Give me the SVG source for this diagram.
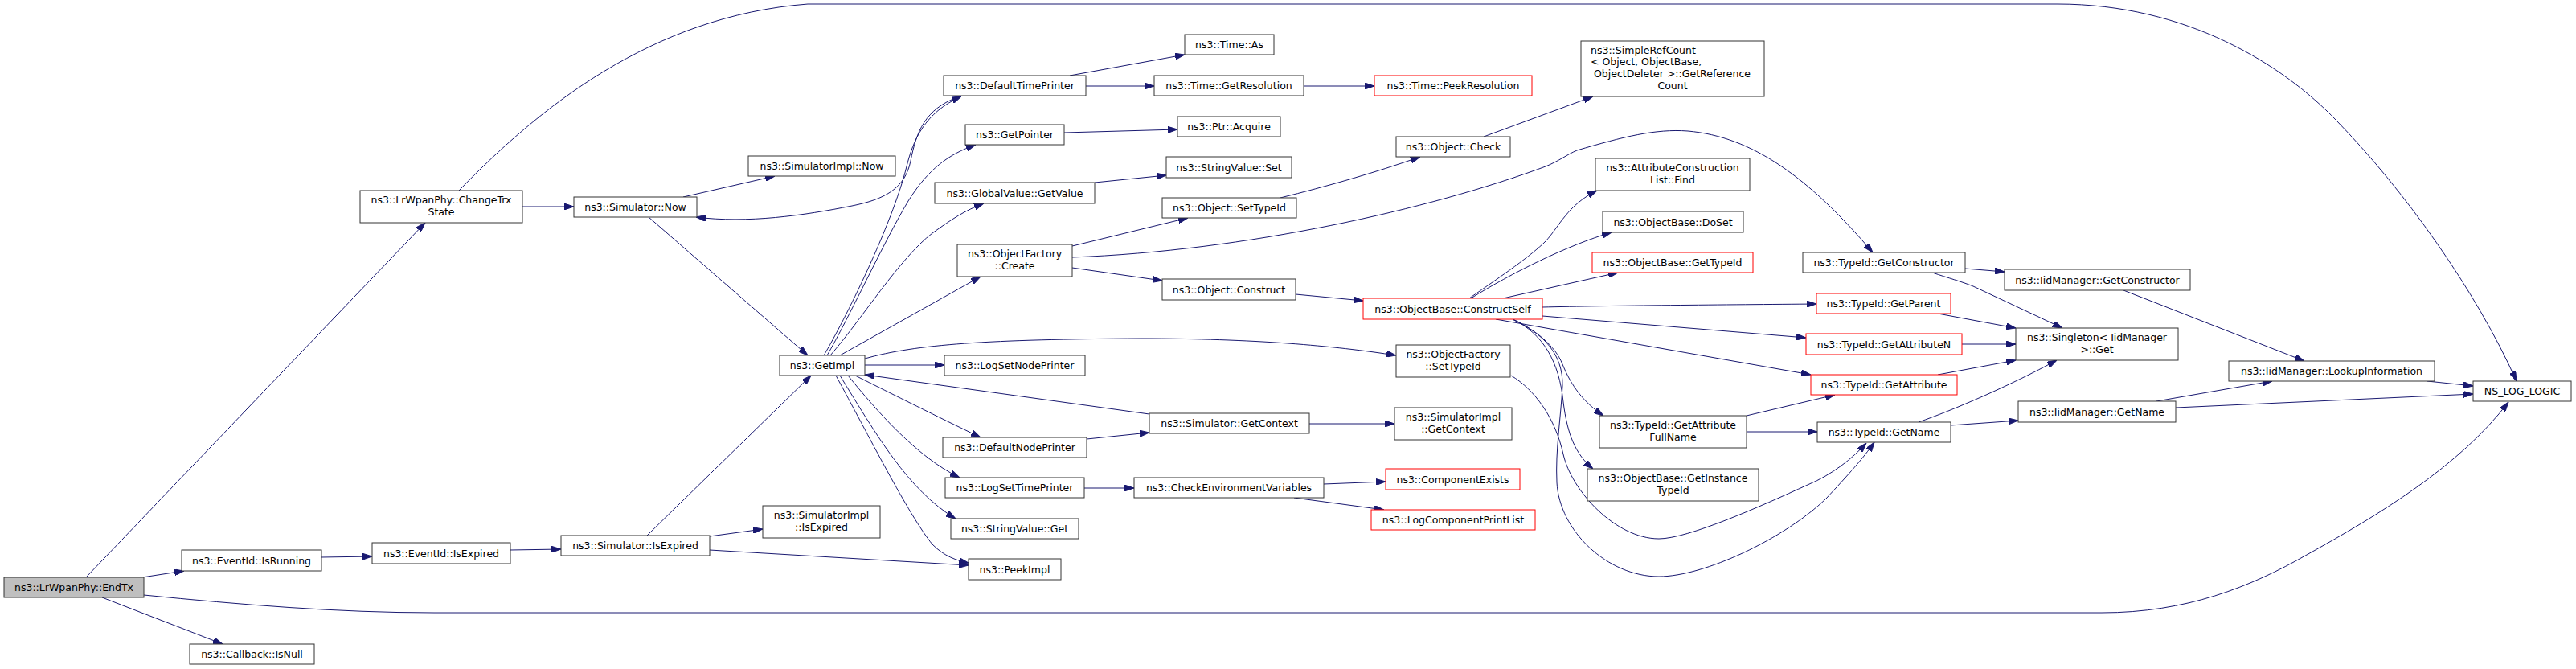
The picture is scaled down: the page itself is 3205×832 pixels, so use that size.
<svg xmlns="http://www.w3.org/2000/svg" width="3205" height="832" viewBox="0 0 3205 832">
<style>
.n rect{fill:#fff;stroke:#333;stroke-width:1}
.n.root rect{fill:#bfbfbf}
.n.red rect{stroke:#ff0000}
.n text{font-family:"DejaVu Sans",sans-serif;font-size:12.5px;text-anchor:middle;fill:#000}
.n text.l{text-anchor:start}
#edges path{fill:none;stroke:#191970;stroke-width:1;marker-end:url(#arr)}
</style>
<defs>
<marker id="arr" markerWidth="12" markerHeight="8" refX="12" refY="4" orient="auto" markerUnits="userSpaceOnUse">
<path d="M0,0 L12,4 L0,8 z" fill="#191970" stroke="#191970" stroke-width="1"/>
</marker>
</defs>
<rect x="0" y="0" width="3205" height="832" fill="#fff"/>
<g id="edges">
<path d="M107,718 L529,277"/>
<path d="M177,718 L229,710"/>
<path d="M179,740 C300,752 420,762 540,762 L2615,762 C2720,762 2800,730 2870,690 C2960,640 3060,580 3121,500"/>
<path d="M127,743 L277,801"/>
<path d="M650,257 L714,257"/>
<path d="M571,237 C670,135 810,20 1005,5 L2560,5 C2720,5 2840,80 2907,150 C2990,235 3080,360 3131,474"/>
<path d="M850,245 L964,219"/>
<path d="M807,270 L1005,442"/>
<path d="M1194,120 C1150,135 1140,165 1133,200 C1126,235 1100,248 1060,256 C1000,268 930,278 866,270"/>
<path d="M1025,442 C1050,400 1110,280 1128,207 C1136,175 1150,140 1196,120"/>
<path d="M1029,442 C1055,398 1100,300 1130,250 C1155,210 1180,192 1214,180"/>
<path d="M1033,442 C1070,400 1120,320 1160,290 C1185,272 1200,262 1224,253"/>
<path d="M1045,442 L1220,344"/>
<path d="M1076,454 L1175,454"/>
<path d="M1076,446 C1140,428 1230,422 1420,421 C1560,421 1660,430 1737,442"/>
<path d="M1430,515 L1076,466"/>
<path d="M1064,467 C1110,490 1170,520 1220,544"/>
<path d="M1055,467 C1090,510 1140,568 1194,594"/>
<path d="M1045,467 C1090,540 1130,610 1189,645"/>
<path d="M1040,467 C1080,540 1130,640 1160,677 C1175,692 1190,697 1205,700"/>
<path d="M883,684 L1205,703"/>
<path d="M883,667 L949,658"/>
<path d="M805,666 L1009,467"/>
<path d="M635,684 L698,683"/>
<path d="M400,693 L463,692"/>
<path d="M1331,94 L1474,68"/>
<path d="M1351,107 L1436,107"/>
<path d="M1622,107 L1710,107"/>
<path d="M1324,165 L1465,161"/>
<path d="M1362,227 L1451,218"/>
<path d="M1334,306 L1478,271"/>
<path d="M1334,320 C1550,312 1780,260 1923,207 C1940,200 1950,192 1962,187 C2020,170 2060,160 2100,163 C2180,170 2250,220 2330,314"/>
<path d="M1334,333 L1446,349"/>
<path d="M1593,246 C1650,232 1710,215 1767,195"/>
<path d="M1846,170 L1982,120"/>
<path d="M1612,366 L1696,374"/>
<path d="M1828,371 C1870,342 1905,318 1923,300 C1940,282 1950,255 1987,237"/>
<path d="M1830,371 C1880,340 1950,305 2005,289"/>
<path d="M1870,371 L2013,339"/>
<path d="M1919,382 C2000,380 2150,379 2260,378"/>
<path d="M1919,393 L2247,420"/>
<path d="M1861,397 L2253,466"/>
<path d="M1882,397 C1910,410 1935,430 1944,453 C1955,480 1970,500 1995,517"/>
<path d="M1882,397 C1920,415 1940,450 1945,500 C1950,540 1960,565 1982,583"/>
<path d="M1882,397 C1920,415 1945,440 1944,480 C1942,520 1935,560 1937,600 C1940,660 2000,717 2064,717 C2120,717 2220,670 2272,620 C2300,590 2318,570 2332,550"/>
<path d="M1880,467 C1910,485 1935,520 1945,565 C1955,610 2010,670 2064,670 C2100,670 2190,630 2249,603 C2280,590 2305,570 2322,551"/>
<path d="M2173,517 L2283,491"/>
<path d="M2173,537 L2261,537"/>
<path d="M2387,525 C2430,510 2500,480 2559,448"/>
<path d="M2427,529 L2511,523"/>
<path d="M2411,390 L2508,408"/>
<path d="M2441,428 L2508,428"/>
<path d="M2411,466 L2508,448"/>
<path d="M2445,334 L2494,338"/>
<path d="M2404,339 C2425,346 2440,350 2455,356 L2566,408"/>
<path d="M2642,361 L2867,449"/>
<path d="M2683,499 L2827,474"/>
<path d="M2707,507 L3077,490"/>
<path d="M3020,474 L3077,480"/>
<path d="M1629,527 L1735,527"/>
<path d="M1352,546 L1430,538"/>
<path d="M1349,607 L1411,607"/>
<path d="M1647,602 L1724,599"/>
<path d="M1610,619 L1722,634"/>
</g>
<g id="n_endtx" class="n root"><rect x="5" y="718" width="174" height="25"/><text x="92" y="735">ns3::LrWpanPhy::EndTx</text></g>
<g id="n_changetrx" class="n"><rect x="448" y="237" width="202" height="40"/><text x="549" y="252.5">ns3::LrWpanPhy::ChangeTrx</text><text x="549" y="267.5">State</text></g>
<g id="n_isrunning" class="n"><rect x="226" y="684" width="174" height="26"/><text x="313" y="701.5">ns3::EventId::IsRunning</text></g>
<g id="n_isnull" class="n"><rect x="236" y="801" width="155" height="25"/><text x="313.5" y="818">ns3::Callback::IsNull</text></g>
<g id="n_nslog" class="n"><rect x="3077" y="474" width="122" height="25"/><text x="3138" y="491">NS_LOG_LOGIC</text></g>
<g id="n_evisexpired" class="n"><rect x="463" y="675" width="172" height="26"/><text x="549" y="692.5">ns3::EventId::IsExpired</text></g>
<g id="n_simisexpired" class="n"><rect x="698" y="666" width="185" height="25"/><text x="790.5" y="683">ns3::Simulator::IsExpired</text></g>
<g id="n_simnow" class="n"><rect x="714" y="245" width="153" height="25"/><text x="790.5" y="262">ns3::Simulator::Now</text></g>
<g id="n_simimplnow" class="n"><rect x="931" y="194" width="183" height="25"/><text x="1022.5" y="211">ns3::SimulatorImpl::Now</text></g>
<g id="n_getimpl" class="n"><rect x="970" y="442" width="106" height="25"/><text x="1023" y="459">ns3::GetImpl</text></g>
<g id="n_simimplisexpired" class="n"><rect x="949" y="629" width="146" height="40"/><text x="1022" y="644.5">ns3::SimulatorImpl</text><text x="1022" y="659.5">::IsExpired</text></g>
<g id="n_peekimpl" class="n"><rect x="1205" y="695" width="115" height="26"/><text x="1262.5" y="712.5">ns3::PeekImpl</text></g>
<g id="n_dtp" class="n"><rect x="1174" y="94" width="177" height="25"/><text x="1262.5" y="111">ns3::DefaultTimePrinter</text></g>
<g id="n_getpointer" class="n"><rect x="1201" y="155" width="123" height="25"/><text x="1262.5" y="172">ns3::GetPointer</text></g>
<g id="n_globalvalue" class="n"><rect x="1163" y="227" width="199" height="26"/><text x="1262.5" y="244.5">ns3::GlobalValue::GetValue</text></g>
<g id="n_ofcreate" class="n"><rect x="1191" y="304" width="143" height="40"/><text x="1262.5" y="319.5">ns3::ObjectFactory</text><text x="1262.5" y="334.5">::Create</text></g>
<g id="n_lsnp" class="n"><rect x="1175" y="442" width="175" height="25"/><text x="1262.5" y="459">ns3::LogSetNodePrinter</text></g>
<g id="n_dnp" class="n"><rect x="1173" y="544" width="179" height="25"/><text x="1262.5" y="561">ns3::DefaultNodePrinter</text></g>
<g id="n_lstp" class="n"><rect x="1176" y="594" width="173" height="25"/><text x="1262.5" y="611">ns3::LogSetTimePrinter</text></g>
<g id="n_svget" class="n"><rect x="1183" y="645" width="159" height="25"/><text x="1262.5" y="662">ns3::StringValue::Get</text></g>
<g id="n_timeas" class="n"><rect x="1474" y="43" width="111" height="25"/><text x="1529.5" y="60">ns3::Time::As</text></g>
<g id="n_getres" class="n"><rect x="1436" y="94" width="186" height="25"/><text x="1529" y="111">ns3::Time::GetResolution</text></g>
<g id="n_ptracquire" class="n"><rect x="1465" y="145" width="128" height="25"/><text x="1529" y="162">ns3::Ptr::Acquire</text></g>
<g id="n_svset" class="n"><rect x="1451" y="195" width="156" height="26"/><text x="1529" y="212.5">ns3::StringValue::Set</text></g>
<g id="n_objsettypeid" class="n"><rect x="1446" y="246" width="167" height="25"/><text x="1529.5" y="263">ns3::Object::SetTypeId</text></g>
<g id="n_objconstruct" class="n"><rect x="1446" y="347" width="166" height="26"/><text x="1529" y="364.5">ns3::Object::Construct</text></g>
<g id="n_simgetcontext" class="n"><rect x="1430" y="514" width="199" height="25"/><text x="1529.5" y="531">ns3::Simulator::GetContext</text></g>
<g id="n_checkenv" class="n"><rect x="1411" y="594" width="236" height="25"/><text x="1529" y="611">ns3::CheckEnvironmentVariables</text></g>
<g id="n_peekres" class="n red"><rect x="1710" y="94" width="196" height="25"/><text x="1808" y="111">ns3::Time::PeekResolution</text></g>
<g id="n_src" class="n"><rect x="1967" y="51" width="228" height="69"/><text class="l" x="1979" y="66.5">ns3::SimpleRefCount</text><text class="l" x="1979" y="81">&lt; Object, ObjectBase,</text><text class="l" x="1983" y="96">ObjectDeleter &gt;::GetReference</text><text x="2081" y="111">Count</text></g>
<g id="n_objcheck" class="n"><rect x="1737" y="170" width="142" height="25"/><text x="1808" y="187">ns3::Object::Check</text></g>
<g id="n_attrfind" class="n"><rect x="1985" y="197" width="192" height="40"/><text x="2081" y="212.5">ns3::AttributeConstruction</text><text x="2081" y="227.5">List::Find</text></g>
<g id="n_doset" class="n"><rect x="1994" y="263" width="175" height="26"/><text x="2081.5" y="280.5">ns3::ObjectBase::DoSet</text></g>
<g id="n_obgettypeid" class="n red"><rect x="1981" y="314" width="200" height="25"/><text x="2081" y="331">ns3::ObjectBase::GetTypeId</text></g>
<g id="n_constructself" class="n red"><rect x="1696" y="371" width="223" height="26"/><text x="1807.5" y="388.5">ns3::ObjectBase::ConstructSelf</text></g>
<g id="n_ofsettypeid" class="n"><rect x="1737" y="429" width="142" height="40"/><text x="1808" y="444.5">ns3::ObjectFactory</text><text x="1808" y="459.5">::SetTypeId</text></g>
<g id="n_simimplgetcontext" class="n"><rect x="1735" y="507" width="146" height="40"/><text x="1808" y="522.5">ns3::SimulatorImpl</text><text x="1808" y="537.5">::GetContext</text></g>
<g id="n_compexists" class="n red"><rect x="1724" y="583" width="167" height="26"/><text x="1807.5" y="600.5">ns3::ComponentExists</text></g>
<g id="n_logcompprint" class="n red"><rect x="1706" y="634" width="204" height="25"/><text x="1808" y="651">ns3::LogComponentPrintList</text></g>
<g id="n_getattrfullname" class="n"><rect x="1990" y="517" width="183" height="40"/><text x="2081.5" y="532.5">ns3::TypeId::GetAttribute</text><text x="2081.5" y="547.5">FullName</text></g>
<g id="n_getinstancetypeid" class="n"><rect x="1975" y="583" width="213" height="40"/><text x="2081.5" y="598.5">ns3::ObjectBase::GetInstance</text><text x="2081.5" y="613.5">TypeId</text></g>
<g id="n_getconstructor" class="n"><rect x="2243" y="314" width="202" height="25"/><text x="2344" y="331">ns3::TypeId::GetConstructor</text></g>
<g id="n_getparent" class="n red"><rect x="2260" y="365" width="167" height="25"/><text x="2343.5" y="382">ns3::TypeId::GetParent</text></g>
<g id="n_getattributen" class="n red"><rect x="2247" y="415" width="194" height="26"/><text x="2344" y="432.5">ns3::TypeId::GetAttributeN</text></g>
<g id="n_getattribute" class="n red"><rect x="2253" y="466" width="182" height="25"/><text x="2344" y="483">ns3::TypeId::GetAttribute</text></g>
<g id="n_getname" class="n"><rect x="2261" y="525" width="166" height="25"/><text x="2344" y="542">ns3::TypeId::GetName</text></g>
<g id="n_singleton" class="n"><rect x="2508" y="408" width="202" height="40"/><text x="2609" y="423.5">ns3::Singleton&lt; IidManager</text><text x="2609" y="438.5">&gt;::Get</text></g>
<g id="n_iidgetname" class="n"><rect x="2511" y="499" width="196" height="26"/><text x="2609" y="516.5">ns3::IidManager::GetName</text></g>
<g id="n_iidgetconstructor" class="n"><rect x="2494" y="335" width="231" height="26"/><text x="2609.5" y="352.5">ns3::IidManager::GetConstructor</text></g>
<g id="n_lookup" class="n"><rect x="2773" y="449" width="256" height="25"/><text x="2901" y="466">ns3::IidManager::LookupInformation</text></g>
</svg>
